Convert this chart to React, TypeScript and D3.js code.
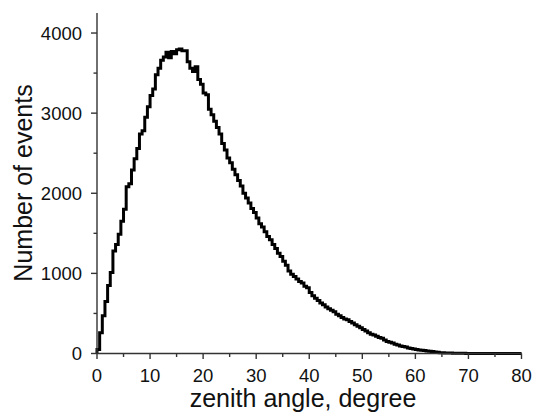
import React from "react";
import * as d3 from "d3";

const binWidth = 0.5;
const counts: number[] = [
  // 0-10
  50, 260, 470, 650, 850, 1010, 1280, 1360, 1490, 1650, 1800, 2080, 2120, 2290, 2430, 2560, 2740, 2780, 2950, 3080,
  // 10-20
  3220, 3300, 3480, 3560, 3660, 3700, 3760, 3690, 3770, 3740, 3790, 3800, 3780, 3780, 3640, 3560, 3520, 3580, 3420, 3360,
  // 20-30
  3250, 3230, 3050, 2980, 2900, 2820, 2740, 2620, 2540, 2440, 2380, 2300, 2230, 2160, 2090, 2000, 1940, 1880, 1810, 1760,
  // 30-40
  1690, 1620, 1580, 1520, 1460, 1420, 1360, 1310, 1250, 1210, 1150, 1100, 1030, 990, 960, 930, 900, 880, 840, 820,
  // 40-50
  760, 720, 690, 660, 630, 610, 580, 560, 540, 520, 490, 470, 450, 430, 420, 400, 380, 360, 340, 320,
  // 50-60
  300, 280, 260, 240, 230, 215, 200, 190, 170, 150, 140, 130, 115, 105, 95, 88, 80, 70, 62, 55,
  // 60-70
  50, 44, 40, 36, 32, 28, 25, 20, 15, 10, 9, 7, 6, 5, 4, 4, 3, 2, 2, 1,
  // 70-80
  0, 0, 0, 0, 0, 0, 0, 0, 0, 0, 0, 0, 0, 0, 0, 0, 0, 0, 0, 0,
];

const xMajorTicks = [0, 10, 20, 30, 40, 50, 60, 70, 80];
const xMinorTicks = [5, 15, 25, 35, 45, 55, 65, 75];
const yMajorTicks = [0, 1000, 2000, 3000, 4000];
const yMinorTicks = [500, 1500, 2500, 3500];
const xTitle = "zenith angle, degree";
const yTitle = "Number of events";

const W = 536;
const H = 417;
const FONT = "'Liberation Sans', Arial, Helvetica, sans-serif";

export default function App() {
  const x = d3.scaleLinear().domain([0, 80]).range([97, 521.5]);
  const y = d3.scaleLinear().domain([0, 4250]).range([353.5, 13]);

  const pts: [number, number][] = [[0, 0]];
  counts.forEach((c, i) => pts.push([i * binWidth, c]));
  pts.push([counts.length * binWidth, counts[counts.length - 1]]);

  const line = d3
    .line<[number, number]>()
    .x((d) => x(d[0]))
    .y((d) => y(d[1]))
    .curve(d3.curveStepAfter);

  const axisColor = "#333";
  const x0 = x(0);
  const y0 = y(0);

  return (
    <svg
      width={W}
      height={H}
      viewBox={`0 0 ${W} ${H}`}
      style={{ position: "absolute", left: 0, top: 0, background: "#fff" }}
    >
      <rect x={0} y={0} width={W} height={H} fill="#fff" />
      {/* histogram */}
      <path d={line(pts) || ""} fill="none" stroke="#000" strokeWidth={3} strokeLinejoin="miter" />

      {/* y axis */}
      <line x1={x0} x2={x0} y1={y0} y2={y.range()[1]} stroke={axisColor} strokeWidth={1.4} />
      {yMajorTicks.map((t) => (
        <g key={"ym" + t}>
          <line x1={x0 - 6} x2={x0} y1={y(t)} y2={y(t)} stroke={axisColor} strokeWidth={1.4} />
          <text
            x={82}
            y={y(t)}
            dy="0.35em"
            textAnchor="end"
            fontFamily={FONT}
            fontSize={18.5}
            fill="#111"
          >
            {t}
          </text>
        </g>
      ))}
      {yMinorTicks.map((t) => (
        <line key={"yn" + t} x1={x0 - 3.5} x2={x0} y1={y(t)} y2={y(t)} stroke={axisColor} strokeWidth={1.4} />
      ))}

      {/* x axis */}
      <line x1={x0} x2={x(80)} y1={y0} y2={y0} stroke={axisColor} strokeWidth={1.4} />
      {xMajorTicks.map((t) => (
        <g key={"xm" + t}>
          <line x1={x(t)} x2={x(t)} y1={y0} y2={y0 + 5.5} stroke={axisColor} strokeWidth={1.4} />
          <text
            x={x(t)}
            y={381.5}
            textAnchor="middle"
            fontFamily={FONT}
            fontSize={18.5}
            fill="#111"
          >
            {t}
          </text>
        </g>
      ))}
      {xMinorTicks.map((t) => (
        <line key={"xn" + t} x1={x(t)} x2={x(t)} y1={y0} y2={y0 + 3.5} stroke={axisColor} strokeWidth={1.4} />
      ))}

      {/* titles */}
      <text
        x={303}
        y={407}
        textAnchor="middle"
        fontFamily={FONT}
        fontSize={25}
        fill="#111"
      >
        {xTitle}
      </text>
      <text
        transform={`translate(32, ${183}) rotate(-90)`}
        textAnchor="middle"
        fontFamily={FONT}
        fontSize={25}
        fill="#111"
      >
        {yTitle}
      </text>
    </svg>
  );
}
